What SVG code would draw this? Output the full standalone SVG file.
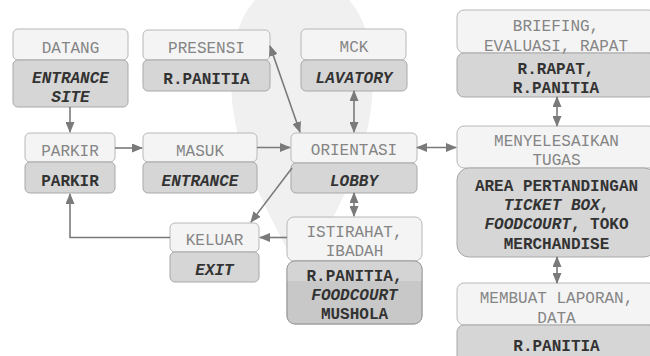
<svg xmlns="http://www.w3.org/2000/svg" width="650" height="356" viewBox="0 0 650 356">
  <defs>
    <style>
      .hd { fill: #f4f4f4; stroke: #b8b8b8; stroke-width: 1; }
      .bd { fill: #d6d6d6; stroke: #a8a8a8; stroke-width: 1; }
      .bd2 { fill: #c8c8c8; stroke: #a0a0a0; stroke-width: 1; }
      .ht { font-family: "Liberation Mono", "Courier New", monospace; font-size: 16px; fill: #858585; text-anchor: middle; }
      .bt { font-family: "Liberation Mono", "Courier New", monospace; font-size: 16px; font-weight: bold; fill: #333; text-anchor: middle; }
      .it { font-style: italic; }
      .ln { fill: none; stroke: #7a7a7a; stroke-width: 1.6; }
    </style>
    <marker id="ah" markerUnits="userSpaceOnUse" markerWidth="11" markerHeight="9" refX="10" refY="4.5" orient="auto-start-reverse" viewBox="0 0 11 9">
      <path d="M0,0 L11,4.5 L0,9 z" fill="#7a7a7a"/>
    </marker>
    <clipPath id="restClip">
      <rect x="287" y="261" width="135" height="63" rx="8"/>
    </clipPath>
  </defs>

  <rect width="650" height="356" fill="#ffffff"/>

  <!-- faint backdrop emblem -->
  <path d="M302,280 C285,240 238,170 232,100 C226,30 250,-20 302,-20 C354,-20 378,30 372,100 C366,170 319,240 302,280 Z" fill="#f0f0f0"/>

  <!-- nodes -->
  <g id="datang">
    <rect class="hd" x="13" y="29" width="115" height="31" rx="5"/>
    <rect class="bd" x="13" y="60" width="115" height="47" rx="5"/>
    <text class="ht" x="70.5" y="52.5">DATANG</text>
    <text class="bt it" x="70.5" y="83">ENTRANCE</text>
    <text class="bt it" x="70.5" y="101.5">SITE</text>
  </g>
  <g id="presensi">
    <rect class="hd" x="143" y="30" width="127" height="30" rx="5"/>
    <rect class="bd" x="143" y="60" width="127" height="31" rx="5"/>
    <text class="ht" x="206.5" y="53">PRESENSI</text>
    <text class="bt" x="206.5" y="84">R.PANITIA</text>
  </g>
  <g id="mck">
    <rect class="hd" x="301" y="29" width="105" height="31" rx="5"/>
    <rect class="bd" x="301" y="60" width="106" height="31" rx="5"/>
    <text class="ht" x="354" y="52">MCK</text>
    <text class="bt it" x="354" y="83">LAVATORY</text>
  </g>
  <g id="briefing">
    <rect class="hd" x="457" y="10" width="199" height="43" rx="7"/>
    <rect class="bd" x="457" y="53" width="199" height="44" rx="7"/>
    <text class="ht" x="556" y="30.5">BRIEFING,</text>
    <text class="ht" x="556" y="50.5">EVALUASI, RAPAT</text>
    <text class="bt" x="556" y="74">R.RAPAT,</text>
    <text class="bt" x="556" y="92.7">R.PANITIA</text>
  </g>
  <g id="parkir">
    <rect class="hd" x="25" y="133" width="90" height="29" rx="5"/>
    <rect class="bd" x="25" y="162" width="90" height="31" rx="5"/>
    <text class="ht" x="70" y="155.5">PARKIR</text>
    <text class="bt" x="70" y="185.5">PARKIR</text>
  </g>
  <g id="masuk">
    <rect class="hd" x="143" y="133" width="114" height="29" rx="5"/>
    <rect class="bd" x="143" y="162" width="114" height="31" rx="5"/>
    <text class="ht" x="200" y="155.5">MASUK</text>
    <text class="bt it" x="200" y="185.5">ENTRANCE</text>
  </g>
  <g id="orientasi">
    <rect class="hd" x="291" y="133" width="126" height="30" rx="5"/>
    <rect class="bd" x="291" y="163" width="126" height="30" rx="5"/>
    <text class="ht" x="354" y="155">ORIENTASI</text>
    <text class="bt it" x="354" y="185.5">LOBBY</text>
  </g>
  <g id="menyelesaikan">
    <rect class="hd" x="457" y="126" width="199" height="42" rx="7"/>
    <rect class="bd" x="457" y="168" width="199" height="89" rx="12"/>
    <text class="ht" x="556.5" y="146">MENYELESAIKAN</text>
    <text class="ht" x="556.5" y="165">TUGAS</text>
    <text class="bt" x="556.5" y="190.5">AREA PERTANDINGAN</text>
    <text class="bt" x="556.5" y="209.5"><tspan class="it">TICKET BOX</tspan>,</text>
    <text class="bt" x="556.5" y="229"><tspan class="it">FOODCOURT</tspan>, TOKO</text>
    <text class="bt" x="556.5" y="249">MERCHANDISE</text>
  </g>
  <g id="keluar">
    <rect class="hd" x="170" y="223" width="89" height="29" rx="5"/>
    <rect class="bd" x="170" y="252" width="89" height="30" rx="5"/>
    <text class="ht" x="214.5" y="244.5">KELUAR</text>
    <text class="bt it" x="214.5" y="275">EXIT</text>
  </g>
  <g id="istirahat">
    <rect class="hd" x="287" y="217" width="135" height="44" rx="7"/>
    <rect class="bd2" x="287" y="261" width="135" height="63" rx="8"/>
    <rect x="287" y="261" width="135" height="20" fill="#d4d4d4" clip-path="url(#restClip)"/>
    <rect x="287" y="261" width="135" height="63" rx="8" fill="none" stroke="#a0a0a0"/>
    <text class="ht" x="354.5" y="236.5">ISTIRAHAT,</text>
    <text class="ht" x="354.5" y="255.5">IBADAH</text>
    <text class="bt" x="354.5" y="280.5">R.PANITIA,</text>
    <text class="bt it" x="354.5" y="299.5">FOODCOURT</text>
    <text class="bt" x="354.5" y="319">MUSHOLA</text>
  </g>
  <g id="laporan">
    <rect class="hd" x="457" y="283" width="199" height="42" rx="7"/>
    <rect class="bd" x="457" y="325" width="199" height="40" rx="7"/>
    <text class="ht" x="556.5" y="303">MEMBUAT LAPORAN,</text>
    <text class="ht" x="556.5" y="323">DATA</text>
    <text class="bt" x="556.5" y="350.5">R.PANITIA</text>
  </g>

  <!-- connectors -->
  <g id="connectors">
    <line class="ln" x1="70" y1="107" x2="70" y2="132" marker-end="url(#ah)"/>
    <line class="ln" x1="115" y1="148" x2="142" y2="148" marker-end="url(#ah)"/>
    <line class="ln" x1="257" y1="147.5" x2="290" y2="147.5" marker-end="url(#ah)"/>
    <line class="ln" x1="270" y1="46" x2="300" y2="132" marker-start="url(#ah)" marker-end="url(#ah)"/>
    <line class="ln" x1="354" y1="91" x2="354" y2="132" marker-start="url(#ah)" marker-end="url(#ah)"/>
    <line class="ln" x1="417" y1="147.5" x2="456" y2="147.5" marker-start="url(#ah)" marker-end="url(#ah)"/>
    <line class="ln" x1="557" y1="97" x2="557" y2="126" marker-start="url(#ah)" marker-end="url(#ah)"/>
    <line class="ln" x1="557" y1="257" x2="557" y2="283" marker-start="url(#ah)" marker-end="url(#ah)"/>
    <line class="ln" x1="292" y1="168" x2="251" y2="222" marker-end="url(#ah)"/>
    <line class="ln" x1="354" y1="193" x2="354" y2="216" marker-start="url(#ah)" marker-end="url(#ah)"/>
    <line class="ln" x1="287" y1="237.5" x2="260" y2="237.5" marker-end="url(#ah)"/>
    <polyline class="ln" points="170,237.5 70,237.5 70,194" marker-end="url(#ah)"/>
  </g>
</svg>
